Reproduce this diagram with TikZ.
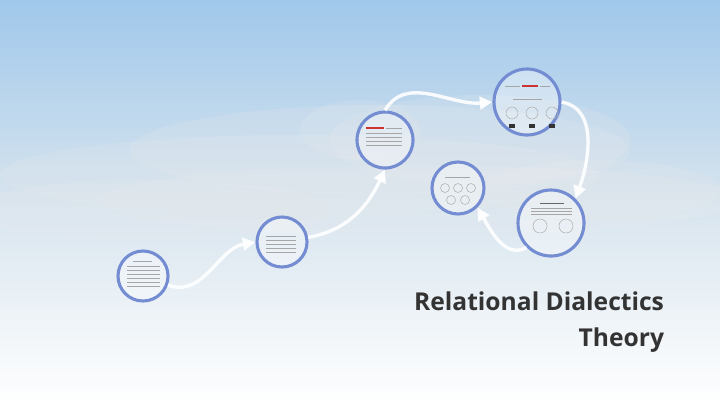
\documentclass[tikz,border=0pt]{standalone}
\usepackage{fontspec}
\setmainfont{Open Sans}
\usetikzlibrary{arrows.meta}
\definecolor{sky}{RGB}{160,200,235}
\definecolor{haze}{RGB}{215,228,238}
\definecolor{ring}{RGB}{115,140,210}
\tikzset{
  frame/.style={circle, draw=ring, line width=2.2pt, fill=white, fill opacity=0.35, text opacity=1},
  flow/.style={white, line width=2.4pt, -{Triangle[length=9pt,width=9pt]}, opacity=0.9},
  txt/.style={gray!70, line width=0.6pt},
}
\begin{document}
\begin{tikzpicture}[x=0.025cm,y=-0.025cm]
  \useasboundingbox (0,0) rectangle (720,404);
  \shade[top color=sky, bottom color=white, middle color=haze] (0,0) rectangle (720,404);
  % clouds
  \foreach \cx/\cy/\rx/\ry in {380/150/250/45, 300/175/300/40, 480/140/150/45, 420/200/320/35, 150/210/180/30, 360/130/60/30, 600/190/120/30}
    \fill[white!85!gray, opacity=0.18] (\cx,\cy) ellipse [x radius=\rx, y radius=\ry];
  % frames
  \node[frame, minimum size=1.25cm] (intro) at (143,276) {};
  \node[frame, minimum size=1.25cm] (basics) at (282,242) {};
  \node[frame, minimum size=1.4cm] (tension) at (385,140) {};
  \node[frame, minimum size=1.65cm] (internal) at (527,102) {};
  \node[frame, minimum size=1.3cm] (praxis) at (458,188) {};
  \node[frame, minimum size=1.65cm] (external) at (551,223) {};
  % illegible text lines
  \foreach \y in {266,270,274,278,282,286} \draw[txt] (127,\y) -- (160,\y);
  \draw[txt] (133,261) -- (152,261);
  \foreach \y in {236,240,244,248,252} \draw[txt] (266,\y) -- (296,\y);
  \draw[red!60!gray, line width=0.8pt] (366,128) -- (384,128); \draw[txt] (386,128) -- (402,128);
  \foreach \y in {133,137,141,145} \draw[txt] (366,\y) -- (402,\y);
  \draw[txt] (505,86) -- (520,86); \draw[red!60!gray, line width=0.8pt] (522,86) -- (538,86); \draw[txt] (540,86) -- (550,86);
  \draw[txt] (513,99) -- (542,99);
  \foreach \x in {512,532,552} {\draw[gray!60] (\x,113) circle (6); \fill[black!80] (\x-3,124) rectangle (\x+3,128);}
  \draw[txt] (445,177) -- (470,177);
  \foreach \x/\y in {445/188,458/188,471/188,451/200,465/200} \draw[gray!60] (\x,\y) circle (4.5);
  \draw[black!60, line width=0.7pt] (540,203) -- (564,203);
  \foreach \y in {208,211,214} \draw[txt] (531,\y) -- (572,\y);
  \foreach \x in {540,566} \draw[gray!60] (\x,226) circle (7);
  % path
  \draw[flow] (intro) to[out=-20, in=190] (basics.west);
  \draw[flow] (basics) to[out=10, in=-115] (tension.south);
  \draw[flow] (tension.north) to[out=60, in=185] (internal.west);
  \draw[flow] (internal.east) to[out=-10, in=70] (external.north east);
  \draw[flow] (external.south west) to[out=210, in=-60] (praxis.south east);
  % title
  \node[anchor=east, align=right, font=\bfseries\fontsize{17.5}{26}\selectfont, text=black!80] (title) at (669,322) {Relational Dialectics\\Theory};
\end{tikzpicture}
\end{document}
